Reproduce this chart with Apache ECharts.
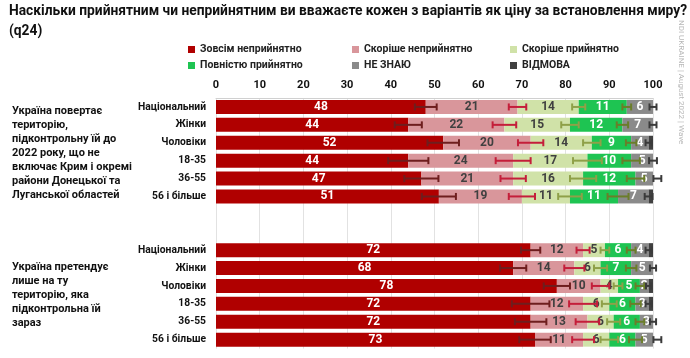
<!DOCTYPE html>
<html>
<head>
<meta charset="utf-8">
<script src="https://cdn.jsdelivr.net/npm/echarts@6/dist/echarts.min.js"></script>
<style>
html,body{margin:0;padding:0;background:#fff;}
#chart{width:690px;height:358px;}
</style>
</head>
<body>
<div id="chart"></div>
<script>
// ---- data ----
const subgroups = ['Національний', 'Жінки', 'Чоловіки', '18-35', '36-55', '56 і більше'];
const seriesNames = ['Зовсім неприйнятно', 'Скоріше неприйнятно', 'Скоріше прийнятно', 'Повністю прийнятно', 'НЕ ЗНАЮ', 'ВІДМОВА'];
const group1Lines = ['Україна повертає', 'територію,', 'підконтрольну їй до', '2022 року, що не', 'включає Крим і окремі', 'райони Донецької та', 'Луганської областей'];
const group2Lines = ['Україна претендує', 'лише на ту', 'територію, яка', 'підконтрольна їй', 'зараз'];
const xTicks = [0, 10, 20, 30, 40, 50, 60, 70, 80, 90, 100];

// group 1 values
const g1Red   = [48, 44, 52, 44, 47, 51];
const g1Pink  = [21, 22, 20, 24, 21, 19];
const g1LGrn  = [14, 15, 14, 17, 16, 11];
const g1Grn   = [11, 12, 9, 10, 12, 11];
const g1Gray  = [6, 7, 4, 5, 5, 7];
const g1Ref   = [0.4, 0.4, 1, 0.4, 0.3, 1];
// group 2 values
const g2Red   = [72, 68, 78, 72, 72, 73];
const g2Pink  = [12, 14, 10, 12, 13, 11];
const g2LGrn  = [5, 6, 4, 6, 6, 6];
const g2Grn   = [6, 7, 5, 6, 6, 6];
const g2Gray  = [4, 5, 2, 3, 3, 5];
const g2Ref   = [1, 0.4, 1, 1, 0.4, 0.3];

// error-bar half widths (per segment)
const g1ErrRed  = [2.5, 3.1, 3.6, 4.6, 3.9, 3.9];
const g1ErrPink = [2.0, 2.7, 2.9, 4.0, 2.9, 3.0];
const g1ErrLGrn = [1.5, 2.0, 2.0, 3.3, 3.0, 2.7];
const g1ErrGrn  = [1.0, 1.3, 1.2, 2.0, 2.0, 2.4];
const g1ErrGray = [0.8, 0.8, 0.7, 0.9, 0.9, 0.9];
const g2ErrRed  = [2.2, 3.0, 3.0, 4.3, 3.6, 3.6];
const g2ErrPink = [1.5, 2.3, 2.0, 3.2, 2.7, 2.5];
const g2ErrLGrn = [1.0, 1.5, 1.0, 1.7, 1.5, 2.0];
const g2ErrGrn  = [1.0, 1.2, 1.0, 1.2, 1.0, 1.5];
const g2ErrGray = [0.7, 0.7, 0.6, 0.7, 0.7, 0.9];

// ---- styling ----
const colors = ['#b00000', '#d9969b', '#d0e2a8', '#1ec452', '#8a8a8a', '#404040'];
const labelColors = ['#ffffff', '#404040', '#404040', '#ffffff', '#ffffff', '#ffffff'];
const errColors = ['#6e1e1e', '#c41e3a', '#8fa048', '#6b7d2a', '#3a3a3a'];
const FONT = 'Roboto';

const gap = ['-', '-'];
const cats = subgroups.concat(['', ' ']).concat(subgroups);
const segData = [
  g1Red.concat(gap, g2Red),
  g1Pink.concat(gap, g2Pink),
  g1LGrn.concat(gap, g2LGrn),
  g1Grn.concat(gap, g2Grn),
  g1Gray.concat(gap, g2Gray),
  g1Ref.concat(gap, g2Ref)
];
const errData = [
  g1ErrRed.concat(gap, g2ErrRed),
  g1ErrPink.concat(gap, g2ErrPink),
  g1ErrLGrn.concat(gap, g2ErrLGrn),
  g1ErrGrn.concat(gap, g2ErrGrn),
  g1ErrGray.concat(gap, g2ErrGray)
];

const series = [];
segData.forEach((d, s) => {
  series.push({
    name: seriesNames[s],
    type: 'bar',
    stack: 'total',
    barWidth: 14,
    data: d,
    itemStyle: { color: colors[s] },
    label: {
      show: s < 5,
      position: 'inside',
      color: labelColors[s],
      fontFamily: FONT,
      fontWeight: 'bold',
      fontSize: 12
    },
    emphasis: { disabled: true },
    z: 2
  });
});

// error bars at cumulative ends
errData.forEach((eArr, s) => {
  const pts = [];
  for (let i = 0; i < cats.length; i++) {
    if (segData[0][i] === '-') continue;
    let cum = 0;
    for (let k = 0; k <= s; k++) cum += segData[k][i];
    pts.push([i, cum, eArr[i]]);
  }
  series.push({
    type: 'custom',
    name: 'err' + s,
    data: pts,
    encode: { x: 1, y: 0 },
    z: 5,
    silent: true,
    renderItem: function (params, api) {
      const yi = api.value(0), c = api.value(1), h = api.value(2);
      const a = api.coord([c - h, yi]);
      const b = api.coord([c + h, yi]);
      const ch = 3.5;
      const st = { stroke: errColors[s], lineWidth: 2 };
      return {
        type: 'group',
        children: [
          { type: 'line', shape: { x1: a[0], y1: a[1], x2: b[0], y2: b[1] }, style: st },
          { type: 'line', shape: { x1: a[0], y1: a[1] - ch, x2: a[0], y2: a[1] + ch }, style: st },
          { type: 'line', shape: { x1: b[0], y1: b[1] - ch, x2: b[0], y2: b[1] + ch }, style: st }
        ]
      };
    }
  });
});

// legends
const legPos = [[188, 44], [352, 44], [510, 44], [188, 60], [352, 60], [510, 60]];
const legends = seriesNames.map((n, i) => ({
  data: [n],
  left: legPos[i][0],
  top: legPos[i][1],
  padding: 0,
  itemWidth: 7,
  itemHeight: 7,
  icon: 'rect',
  selectedMode: false,
  textStyle: { fontFamily: FONT, fontWeight: 'bold', fontSize: 10.5, color: '#222' }
}));

// group description texts, one element per line, left aligned
const graphics = [];
function addLines(lines, y0, step) {
  lines.forEach((t, i) => {
    graphics.push({
      type: 'text', x: 12, y: y0 + i * step,
      style: { text: t, font: 'bold 11px ' + FONT, fill: '#111', textAlign: 'left', textVerticalAlign: 'middle' }
    });
  });
}
addLines(group1Lines, 111, 14.1);
addLines(group2Lines, 267, 14);
graphics.push({
  type: 'text', x: 681, y: 20, rotation: -Math.PI / 2,
  style: { text: 'NDI UKRAINE | August 2022 | Wave', font: '8px ' + FONT, fill: '#b8b8b8', textAlign: 'left', textVerticalAlign: 'middle' }
});

const chart = echarts.init(document.getElementById('chart'), null, { renderer: 'canvas' });
chart.setOption({
  animation: false,
  backgroundColor: '#ffffff',
  title: {
    text: 'Наскільки прийнятним чи неприйнятним ви вважаєте кожен з варіантів як ціну за встановлення миру?\n(q24)',
    left: 9,
    top: 2,
    padding: 0,
    textStyle: { fontFamily: FONT, fontWeight: 'bold', fontSize: 13.8, color: '#111', lineHeight: 20 }
  },
  legend: legends,
  grid: { left: 216, right: 37, top: 98, bottom: 9.4 },
  xAxis: {
    type: 'value',
    position: 'top',
    min: xTicks[0],
    max: xTicks[xTicks.length - 1],
    interval: 10,
    axisLine: { show: true, lineStyle: { color: '#d0d0d0' } },
    axisTick: { show: false },
    axisLabel: { fontFamily: FONT, fontWeight: 'bold', fontSize: 11, color: '#111', margin: 7 },
    splitLine: { show: true, lineStyle: { color: '#e2e2e2' } }
  },
  yAxis: {
    type: 'category',
    inverse: true,
    data: cats,
    axisLine: { show: false },
    axisTick: { show: false },
    axisLabel: { fontFamily: FONT, fontWeight: 'bold', fontSize: 10.3, color: '#111', margin: 10 }
  },
  graphic: graphics,
  series: series
});
</script>
</body>
</html>
